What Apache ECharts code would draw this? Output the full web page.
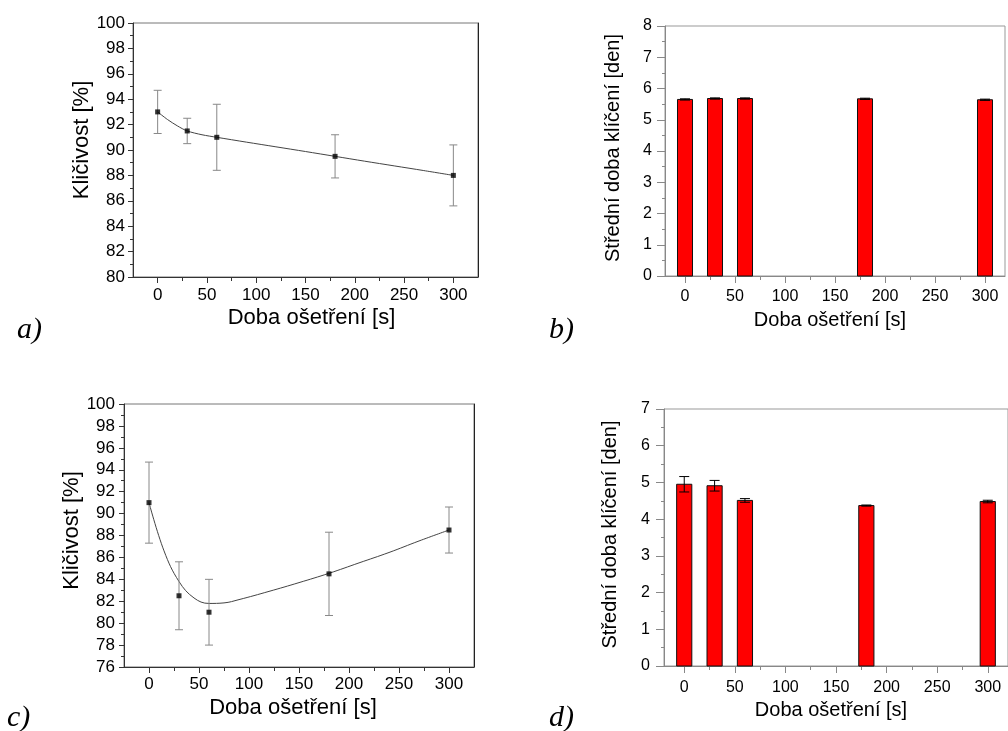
<!DOCTYPE html>
<html>
<head>
<meta charset="utf-8">
<script src="https://cdn.jsdelivr.net/npm/echarts@6/dist/echarts.min.js"></script>
<style>
  html, body { margin: 0; padding: 0; background: #fff; }
  #chart { width: 1008px; height: 731px; }
</style>
</head>
<body>
<div id="chart"></div>
<script>
// ---- data ----
const times = [0, 30, 60, 180, 300];
const xTickValues = [0, 50, 100, 150, 200, 250, 300];

// a) germination (%) with error
const germA = [93, 91.5, 91, 89.5, 88];
const errA = [1.7, 1.0, 2.6, 1.7, 2.4];
// a) fitted curve
const fitAX = [0, 10, 20, 30, 45, 60, 90, 120, 150, 180, 210, 240, 270, 300];
const fitAY = [93, 92.4, 91.9, 91.5, 91.2, 91.0, 90.62, 90.25, 89.88, 89.5, 89.12, 88.75, 88.38, 88.0];

// b) mean germination time (days)
const mgtB = [5.65, 5.68, 5.68, 5.67, 5.64];
const errB = [0.02, 0.02, 0.02, 0.02, 0.02];

// c) germination (%) with error
const germC = [91, 82.5, 81, 84.5, 88.5];
const errC = [3.7, 3.1, 3.0, 3.8, 2.1];
// c) fitted curve
const fitCX = [0, 15, 30, 45, 60, 75, 90, 120, 150, 180, 210, 240, 270, 300];
const fitCY = [91, 86.6, 83.8, 82.3, 81.8, 81.85, 82.15, 82.9, 83.7, 84.55, 85.5, 86.45, 87.5, 88.5];

// d) mean germination time (days)
const mgtD = [4.95, 4.91, 4.51, 4.37, 4.48];
const errD = [0.21, 0.145, 0.05, 0.015, 0.035];

const xTitle = 'Doba ošetření [s]';
const yTitleGerm = 'Kličivost [%]';
const yTitleMgt = 'Střední doba klíčení [den]';
const panelLabels = ['a)', 'b)', 'c)', 'd)'];

// ---- helpers ----
const SANS = '"Liberation Sans", Arial, sans-serif';
const SERIF = '"Liberation Serif", "DejaVu Serif", serif';

function pairs(xs, ys) { return xs.map((x, i) => [x, ys[i]]); }
function errData(xs, ys, es) { return xs.map((x, i) => [x, ys[i] - es[i], ys[i] + es[i]]); }

function errSeries(xi, yi, data, color, capHalf) {
  return {
    type: 'custom', xAxisIndex: xi, yAxisIndex: yi, z: 5,
    data: data,
    renderItem: function (params, api) {
      const x = api.value(0);
      const lo = api.coord([x, api.value(1)]);
      const hi = api.coord([x, api.value(2)]);
      const st = { stroke: color, lineWidth: 1 };
      return {
        type: 'group',
        children: [
          { type: 'line', shape: { x1: lo[0], y1: lo[1], x2: hi[0], y2: hi[1] }, style: st },
          { type: 'line', shape: { x1: lo[0] - capHalf, y1: lo[1], x2: lo[0] + capHalf, y2: lo[1] }, style: st },
          { type: 'line', shape: { x1: hi[0] - capHalf, y1: hi[1], x2: hi[0] + capHalf, y2: hi[1] }, style: st }
        ]
      };
    }
  };
}

function barSeries(xi, yi, data, halfWidth) {
  return {
    type: 'custom', xAxisIndex: xi, yAxisIndex: yi, z: 3,
    data: data,
    renderItem: function (params, api) {
      const x = api.value(0), v = api.value(1);
      const p1 = api.coord([x - halfWidth, v]);
      const p2 = api.coord([x + halfWidth, 0]);
      return {
        type: 'rect',
        shape: { x: p1[0], y: p1[1], width: p2[0] - p1[0], height: p2[1] - p1[1] },
        style: { fill: '#ff0000', stroke: '#111', lineWidth: 1 }
      };
    }
  };
}

function xAxisCfg(gi, min, max, o) {
  return {
    type: 'value', gridIndex: gi, min: min, max: max, splitNumber: 7,
    name: xTitle, nameLocation: 'middle', nameGap: o.nameGap,
    nameTextStyle: { fontFamily: SANS, fontSize: o.nameSize, color: '#000', padding: o.namePad },
    axisLine: { show: true, onZero: false, lineStyle: { color: o.lineColor, width: 1 } },
    axisTick: { show: true, length: o.tickLen, customValues: xTickValues, lineStyle: { color: o.lineColor } },
    minorTick: { show: true, splitNumber: 2, length: o.minorLen, lineStyle: { color: o.lineColor } },
    axisLabel: {
      customValues: xTickValues, margin: o.labelMargin,
      fontFamily: SANS, fontSize: o.labelSize, color: '#000',
      formatter: function (v) { return (v >= 0 && v <= 300) ? String(v) : ''; }
    },
    splitLine: { show: false }
  };
}

function yAxisCfg(gi, min, max, interval, name, o) {
  return {
    type: 'value', gridIndex: gi, min: min, max: max, interval: interval, position: 'left',
    name: name, nameLocation: 'middle', nameGap: o.nameGap, nameRotate: 90,
    nameTextStyle: { fontFamily: SANS, fontSize: o.nameSize, color: '#000', padding: o.namePad },
    axisLine: { show: true, onZero: false, lineStyle: { color: o.lineColor, width: 1 } },
    axisTick: { show: true, length: o.tickLen, lineStyle: { color: o.lineColor } },
    minorTick: { show: true, splitNumber: 2, length: o.minorLen, lineStyle: { color: o.lineColor } },
    axisLabel: { margin: o.labelMargin, fontFamily: SANS, fontSize: o.labelSize, color: '#000' },
    splitLine: { show: false }
  };
}

function rightFrame(gi, min, max, color) {
  return {
    type: 'value', gridIndex: gi, min: min, max: max, position: 'right',
    axisLine: { show: true, onZero: false, lineStyle: { color: color, width: 1 } },
    axisTick: { show: false }, axisLabel: { show: false }, splitLine: { show: false }
  };
}

const chart = echarts.init(document.getElementById('chart'), null, { renderer: 'canvas' });

const option = {
  backgroundColor: '#fff',
  animation: false,
  grid: [
    { left: 133, top: 23, width: 345, height: 254, show: true, borderColor: '#777', borderWidth: 1 },
    { left: 665, top: 26, width: 340, height: 250, show: true, borderColor: '#999', borderWidth: 1 },
    { left: 124, top: 404, width: 350, height: 263, show: true, borderColor: '#777', borderWidth: 1 },
    { left: 664, top: 409, width: 348, height: 257, show: true, borderColor: '#999', borderWidth: 1 }
  ],
  xAxis: [
    xAxisCfg(0, -25, 325, { nameGap: 30, nameSize: 22, namePad: [0, 0, 0, 12], lineColor: '#333', tickLen: 6, minorLen: 4, labelMargin: 10, labelSize: 17 }),
    xAxisCfg(1, -20, 320, { nameGap: 34, nameSize: 20, namePad: [0, 10, 0, 0], lineColor: '#888', tickLen: 7, minorLen: 4, labelMargin: 13, labelSize: 16 }),
    xAxisCfg(2, -25, 325, { nameGap: 30, nameSize: 22, namePad: [0, 12, 0, 0], lineColor: '#333', tickLen: 6, minorLen: 4, labelMargin: 9, labelSize: 17 }),
    xAxisCfg(3, -20, 320, { nameGap: 34, nameSize: 20, namePad: [0, 10, 0, 0], lineColor: '#888', tickLen: 7, minorLen: 4, labelMargin: 14, labelSize: 16 })
  ],
  yAxis: [
    yAxisCfg(0, 80, 100, 2, yTitleGerm, { nameGap: 38, nameSize: 22, namePad: [0, 0, 0, 20], lineColor: '#333', tickLen: 5, minorLen: 3, labelMargin: 8, labelSize: 17 }),
    yAxisCfg(1, 0, 8, 1, yTitleMgt, { nameGap: 42, nameSize: 20, namePad: [0, 0, 0, 6], lineColor: '#888', tickLen: 8, minorLen: 3, labelMargin: 13, labelSize: 16 }),
    yAxisCfg(2, 76, 100, 2, yTitleGerm, { nameGap: 39, nameSize: 22, namePad: [0, 0, 0, 10], lineColor: '#333', tickLen: 5, minorLen: 3, labelMargin: 9, labelSize: 17 }),
    yAxisCfg(3, 0, 7, 1, yTitleMgt, { nameGap: 44, nameSize: 20, namePad: [0, 0, 0, 6], lineColor: '#888', tickLen: 8, minorLen: 3, labelMargin: 14, labelSize: 16 }),
    rightFrame(0, 80, 100, '#222'),
    rightFrame(2, 76, 100, '#222')
  ],
  series: [
    // a)
    { type: 'line', xAxisIndex: 0, yAxisIndex: 0, data: pairs(fitAX, fitAY), smooth: 0.3,
      showSymbol: false, lineStyle: { color: '#444', width: 1 }, z: 4 },
    errSeries(0, 0, errData(times, germA, errA), '#888', 4),
    { type: 'scatter', xAxisIndex: 0, yAxisIndex: 0, data: pairs(times, germA), symbol: 'rect', symbolSize: 5,
      itemStyle: { color: '#000' }, z: 6 },
    // b)
    barSeries(1, 1, pairs(times, mgtB), 7.5),
    errSeries(1, 1, errData(times, mgtB, errB), '#000', 5),
    // c)
    { type: 'line', xAxisIndex: 2, yAxisIndex: 2, data: pairs(fitCX, fitCY), smooth: 0.4,
      showSymbol: false, lineStyle: { color: '#444', width: 1 }, z: 4 },
    errSeries(2, 2, errData(times, germC, errC), '#888', 4),
    { type: 'scatter', xAxisIndex: 2, yAxisIndex: 2, data: pairs(times, germC), symbol: 'rect', symbolSize: 5,
      itemStyle: { color: '#000' }, z: 6 },
    // d)
    barSeries(3, 3, pairs(times, mgtD), 7.5),
    errSeries(3, 3, errData(times, mgtD, errD), '#000', 5)
  ],
  graphic: [
    { type: 'text', left: 17, top: 315, style: { text: panelLabels[0], font: 'italic 30px ' + SERIF, fill: '#000' } },
    { type: 'text', left: 549, top: 315, style: { text: panelLabels[1], font: 'italic 30px ' + SERIF, fill: '#000' } },
    { type: 'text', left: 7, top: 703, style: { text: panelLabels[2], font: 'italic 30px ' + SERIF, fill: '#000' } },
    { type: 'text', left: 549, top: 703, style: { text: panelLabels[3], font: 'italic 30px ' + SERIF, fill: '#000' } }
  ]
};

chart.setOption(option);
</script>
</body>
</html>
